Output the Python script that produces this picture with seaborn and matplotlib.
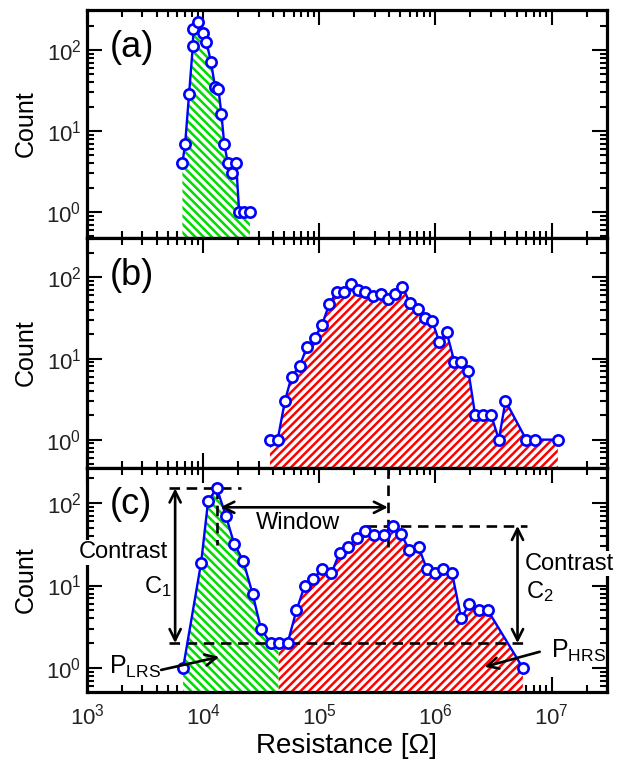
import numpy as np
import matplotlib
matplotlib.use("Agg")
import matplotlib.pyplot as plt
from matplotlib.ticker import LogLocator, FixedLocator, NullFormatter
import seaborn as sns

# ---- histogram data: bin resistance [ohm] and counts ----
# (a) low-resistance state distribution
res_a = [6.63e3, 7.00e3, 7.57e3, 8.15e3, 8.24e3, 9.11e3, 1.00e4, 1.068e4,
         1.165e4, 1.268e4, 1.354e4, 1.438e4, 1.518e4, 1.633e4, 1.767e4,
         1.924e4, 2.042e4, 2.255e4, 2.527e4]
count_a = [4, 7, 29, 112, 180, 224, 161, 126, 72, 35, 33, 16, 7, 4, 3, 4,
           1, 1, 1]

# (b) high-resistance state distribution
res_b = [3.76e4, 4.38e4, 5.06e4, 5.77e4, 6.76e4, 7.83e4, 9.10e4, 1.054e5,
         1.219e5, 1.409e5, 1.618e5, 1.888e5, 2.138e5, 2.495e5, 2.877e5,
         3.373e5, 3.908e5, 4.519e5, 5.200e5, 5.998e5, 7.031e5, 8.147e5,
         9.376e5, 1.081e6, 1.250e6, 1.459e6, 1.667e6, 1.923e6, 2.198e6,
         2.559e6, 3.020e6, 3.516e6, 4.009e6, 6.053e6, 7.129e6, 1.132e7]
count_b = [1, 1, 3, 6, 8, 14, 18, 26, 47, 66, 66, 84, 71, 67, 59, 63, 55,
           63, 77, 49, 41, 32, 29, 16, 21, 9, 9, 7, 2, 2, 2, 1, 3, 1, 1, 1]

# (c) combined distribution; LRS part ends at the bin LRS_HRS_SPLIT
res_c = [6.72e3, 9.61e3, 1.104e4, 1.313e4, 1.569e4, 1.851e4, 2.212e4,
         2.661e4, 3.144e4, 3.804e4, 4.477e4, 5.330e4, 6.36e4, 7.50e4,
         8.91e4, 1.051e5, 1.269e5, 1.496e5, 1.768e5, 2.097e5, 2.482e5,
         2.980e5, 3.584e5, 4.283e5, 5.062e5, 5.969e5, 7.178e5, 8.414e5,
         1.000e6, 1.172e6, 1.393e6, 1.666e6, 1.964e6, 2.362e6, 2.824e6,
         5.657e6]
count_c = [1, 19, 107, 151, 70, 32, 20, 8, 3, 2, 2, 2, 5, 10, 12, 16, 14,
           25, 29, 38, 46, 41, 41, 53, 42, 27, 29, 16, 14, 16, 14, 4, 6, 5,
           5, 1]
LRS_HRS_SPLIT = 4.477e4

panel_labels = ["(a)", "(b)", "(c)"]

BLUE = "#0000ff"
GREEN = "#00dc00"
RED = "#ff0000"

sns.set_theme(style="ticks")
plt.rcParams.update({
    "font.family": ["Liberation Sans", "DejaVu Sans"],
    "mathtext.fontset": "custom",
    "mathtext.rm": "Liberation Sans",
    "mathtext.sf": "Liberation Sans",
    "mathtext.it": "Liberation Sans:italic",
    "hatch.linewidth": 1.8,
    "axes.linewidth": 2.3,
    "axes.edgecolor": "black",
    "text.color": "black",
    "axes.labelcolor": "black",
    "xtick.color": "black",
    "ytick.color": "black",
})

W, H = 633, 764
fig = plt.figure(figsize=(W / 100, H / 100), dpi=100)


def rect(top_px, bot_px, left_px=87, right_px=607):
    return [left_px / W, 1 - bot_px / H, (right_px - left_px) / W,
            (bot_px - top_px) / H]


ax_a = fig.add_axes(rect(10, 238))
ax_b = fig.add_axes(rect(238, 468), sharex=ax_a)
ax_c = fig.add_axes(rect(468, 692), sharex=ax_a)
axes = [ax_a, ax_b, ax_c]
ylims = [(0.478, 312), (0.447, 307), (0.51, 267)]


def hatched_fill(ax, r, c, color, hatch):
    ax.fill_between(r, c, 1e-3, facecolor="white", edgecolor=color,
                    hatch=hatch, linewidth=0, zorder=1)


def curve(ax, r, c):
    sns.lineplot(x=r, y=c, ax=ax, color=BLUE, linewidth=1.7, marker="o",
                 markersize=7.4, markerfacecolor="white",
                 markeredgecolor=BLUE, markeredgewidth=1.9,
                 estimator=None, sort=False, zorder=3)


res_c_arr = np.array(res_c)
cnt_c_arr = np.array(count_c)
lrs_mask = res_c_arr <= LRS_HRS_SPLIT
hrs_mask = res_c_arr >= LRS_HRS_SPLIT

hatched_fill(ax_a, res_a, count_a, GREEN, "\\\\\\\\")
curve(ax_a, res_a, count_a)

hatched_fill(ax_b, res_b, count_b, RED, "////")
curve(ax_b, res_b, count_b)

hatched_fill(ax_c, res_c_arr[lrs_mask], cnt_c_arr[lrs_mask], GREEN, "\\\\\\\\")
hatched_fill(ax_c, res_c_arr[hrs_mask], cnt_c_arr[hrs_mask], RED, "////")
curve(ax_c, res_c, count_c)

for ax, lab, yl in zip(axes, panel_labels, ylims):
    ax.set_xscale("log")
    ax.set_yscale("log")
    ax.set_xlim(1e3, 3e7)
    ax.set_ylim(*yl)
    ax.yaxis.set_major_locator(FixedLocator([1, 10, 100]))
    ax.yaxis.set_minor_locator(LogLocator(base=10, subs=np.arange(2, 10),
                                          numticks=20))
    ax.yaxis.set_minor_formatter(NullFormatter())
    ax.xaxis.set_major_locator(LogLocator(base=10, numticks=12))
    ax.xaxis.set_minor_locator(LogLocator(base=10, subs=np.arange(2, 10),
                                          numticks=12))
    ax.xaxis.set_minor_formatter(NullFormatter())
    ax.tick_params(which="both", direction="in", top=True, right=True,
                   width=1.5, labelsize=16, labelcolor="#222222")
    ax.tick_params(which="major", length=11, pad=4)
    ax.tick_params(which="minor", length=5)
    ax.tick_params(axis="x", which="major", pad=8)
    ax.set_ylabel("Count", fontsize=18)
    ax.yaxis.set_label_coords(-0.095, 0.5)
    ax.text(0.044, 0.835, lab, transform=ax.transAxes, fontsize=26,
            ha="left", va="center")
    ax.set_xlabel("")

ax_a.tick_params(labelbottom=False)
ax_b.tick_params(labelbottom=False)
ax_c.set_xlabel("Resistance [\u03a9]", fontsize=20, labelpad=3)

# ---- annotations on panel (c) ----
i_lrs = int(np.argmax(np.where(lrs_mask, cnt_c_arr, 0)))
i_hrs = int(np.argmax(np.where(res_c_arr > LRS_HRS_SPLIT, cnt_c_arr, 0)))
r_lrs, c_lrs = res_c_arr[i_lrs], cnt_c_arr[i_lrs]
r_hrs, c_hrs = res_c_arr[i_hrs], cnt_c_arr[i_hrs]
c_floor = 2

dash = dict(color="black", lw=1.9, ls=(0, (4, 2.5)), zorder=2.5)
ax_c.plot([5.1e3, 2.11e4], [c_lrs, c_lrs], **dash)
ax_c.plot([5.1e3, 6.2e6], [c_floor, c_floor], **dash)
ax_c.plot([2.5e5, 6.2e6], [c_hrs, c_hrs], **dash)
ax_c.plot([r_lrs, r_lrs], [c_lrs, 31], **dash)
ax_c.plot([r_hrs * 0.91, r_hrs * 0.91], [29, ylims[2][1]], **dash)

arrow = dict(arrowstyle="<->,head_length=0.8,head_width=0.4",
             lw=1.9, color="black", shrinkA=0, shrinkB=0, mutation_scale=10)
ax_c.annotate("", xy=(5.74e3, c_lrs), xytext=(5.74e3, c_floor),
              arrowprops=arrow, zorder=4)
ax_c.annotate("", xy=(5.09e6, c_hrs), xytext=(5.09e6, c_floor),
              arrowprops=arrow, zorder=4)
ax_c.annotate("", xy=(r_lrs * 1.07, 89), xytext=(r_hrs * 0.91, 89),
              arrowprops=arrow, zorder=4)

one_arrow = dict(arrowstyle="->,head_length=0.8,head_width=0.4",
                 lw=1.9, color="black", shrinkA=0, shrinkB=0,
                 mutation_scale=10)
ax_c.annotate("", xy=(1.374e4, 1.36), xytext=(4.35e3, 0.945),
              arrowprops=one_arrow, zorder=4)
ax_c.annotate("", xy=(2.64e6, 1.03), xytext=(7.9e6, 1.57),
              arrowprops=one_arrow, zorder=4)

txt = dict(fontsize=17, zorder=6, clip_on=False)
box = dict(facecolor="white", edgecolor="none", pad=1.0)
ax_c.text(6.59e4, 57, "Window", ha="center", va="center", **txt)
ax_c.text(2.065e3, 25.3, "Contrast", ha="center", va="center", bbox=box,
          **txt)
ax_c.text(3.1e3, 9.7, r"C$_{\mathsf{1}}$", ha="left", va="center", **txt)
ax_c.text(5.9e6, 18.5, "Contrast", ha="left", va="center", bbox=box, **txt)
ax_c.text(6.0e6, 8.45, r"C$_{\mathsf{2}}$", ha="left", va="center", **txt)
ax_c.text(1.55e3, 1.03, r"P$_{\mathsf{LRS}}$", ha="left", va="center",
          fontsize=18, zorder=6, clip_on=False)
ax_c.text(9.8e6, 1.61, r"P$_{\mathsf{HRS}}$", ha="left", va="center",
          fontsize=18, zorder=6, clip_on=False)

fig.savefig("out.png", dpi=100)
